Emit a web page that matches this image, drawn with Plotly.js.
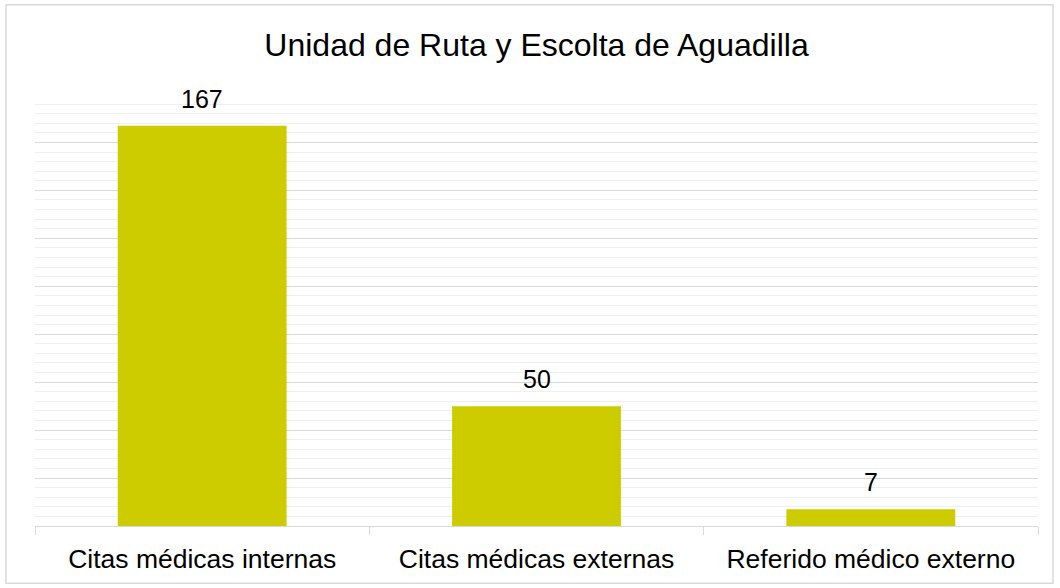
<!DOCTYPE html>
<html>
<head>
<meta charset="utf-8">
<script src="https://cdn.plot.ly/plotly-3.0.1.min.js"></script>
<style>html,body{margin:0;padding:0;background:#fff;}#chart{width:1060px;height:588px;}</style>
</head>
<body>
<div id="chart"></div>
<script>
const categories = ["Citas médicas internas", "Citas médicas externas", "Referido médico externo"];
const values = [167, 50, 7];
const labels = ["167", "50", "7"];
const chartTitle = "Unidad de Ruta y Escolta de Aguadilla";

const FONT = "Liberation Sans, Arial, sans-serif";

const trace = {
  type: "bar",
  x: categories,
  y: values,
  width: 0.505,
  marker: {color: "#CCCC00", line: {width: 0}},
  hoverinfo: "skip"
};

const annotations = categories.map((c, i) => ({
  x: c, y: values[i], xref: "x", yref: "y",
  text: labels[i], showarrow: false,
  yanchor: "bottom", yshift: 11,
  font: {family: FONT, size: 25, color: "#000000"}
}));

const L = 35, R = 22, T = 93.5, B = 61.5;
const W = 1060 - L - R, H = 588 - T - B;

const layout = {
  width: 1060, height: 588,
  margin: {l: L, r: R, t: T, b: B},
  paper_bgcolor: "#ffffff",
  plot_bgcolor: "#ffffff",
  showlegend: false,
  title: {
    text: chartTitle,
    font: {family: FONT, size: 32, color: "#000000"},
    x: 0.5, xref: "paper", xanchor: "center",
    y: 0.924, yref: "container", yanchor: "middle"
  },
  xaxis: {
    type: "category",
    showgrid: false,
    showline: true, linecolor: "#d9d9d9", linewidth: 1,
    ticks: "outside", tickson: "boundaries", ticklen: 8, tickcolor: "#d9d9d9", tickwidth: 1,
    tickfont: {family: FONT, size: 26.5, color: "#000000"},
    ticklabelstandoff: 9,
    fixedrange: true
  },
  yaxis: {
    range: [0, 180.2],
    dtick: 20, tick0: 0,
    showticklabels: false,
    ticks: "",
    showgrid: true, gridcolor: "#d9d9d9", gridwidth: 1,
    zeroline: false,
    showline: false,
    minor: {dtick: 4, showgrid: true, gridcolor: "#efefef", gridwidth: 1, ticks: ""},
    fixedrange: true
  },
  annotations: annotations,
  shapes: [{
    type: "rect", xref: "paper", yref: "paper",
    x0: (6 - L) / W, x1: (1053 - L) / W,
    y0: -(584 - (588 - B)) / H, y1: (588 - B - 4) / H,
    line: {color: "#d9d9d9", width: 1.5}, fillcolor: "rgba(0,0,0,0)", layer: "below"
  }]
};

Plotly.newPlot("chart", [trace], layout, {displayModeBar: false, staticPlot: true});
</script>
</body>
</html>
